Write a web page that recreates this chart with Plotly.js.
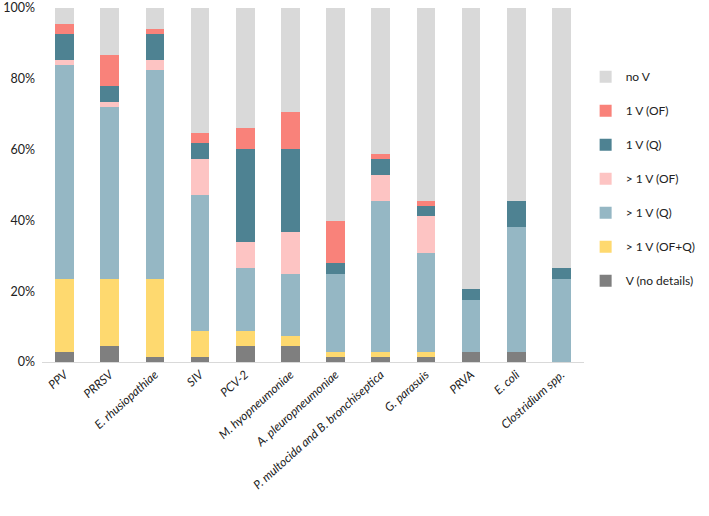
<!DOCTYPE html>
<html>
<head>
<meta charset="utf-8">
<script src="https://cdn.plot.ly/plotly-3.0.1.min.js"></script>
<style>
  html, body { margin: 0; padding: 0; background: #fff; }
  #graph { width: 709px; height: 516px; }
</style>
</head>
<body>
<div id="graph"></div>
<script>
// categories (x axis)
const pathogens = ['PPV', 'PRRSV', 'E. rhusiopathiae', 'SIV', 'PCV-2', 'M. hyopneumoniae',
  'A. pleuropneumoniae', 'P. multocida and B. bronchiseptica', 'G. parasuis', 'PRVA',
  'E. coli', 'Clostridium spp.']

// counts per category (bars normalised to 100%)
const vNoDetails = [2, 3, 1, 1, 3, 3, 1, 1, 1, 2, 2, 0]
const moreOFQ    = [14, 13, 15, 5, 3, 2, 1, 1, 1, 0, 0, 0]
const moreQ      = [41, 33, 40, 26, 12, 12, 15, 29, 19, 10, 24, 16]
const moreOF     = [1, 1, 2, 7, 5, 8, 0, 5, 7, 0, 0, 0]
const oneQ       = [5, 3, 5, 3, 18, 16, 2, 3, 2, 2, 5, 2]
const oneOF      = [2, 6, 1, 2, 4, 7, 8, 1, 1, 0, 0, 0]
const noV        = [3, 9, 4, 24, 23, 20, 41, 28, 37, 54, 37, 50]

const yTicks = [0, 20, 40, 60, 80, 100]

const series = [
  { name: 'V (no details)', y: vNoDetails, color: '#7f7f7f' },
  { name: '> 1 V (OF+Q)',   y: moreOFQ,    color: '#fed96f' },
  { name: '> 1 V (Q)',      y: moreQ,      color: '#95b7c4' },
  { name: '> 1 V (OF)',     y: moreOF,     color: '#fdc4c3' },
  { name: '1 V (Q)',        y: oneQ,       color: '#4e8292' },
  { name: '1 V (OF)',       y: oneOF,      color: '#f9827a' },
  { name: 'no V',           y: noV,        color: '#d9d9d9' }
]

// legend lists the top segment first
const graphData = series.map((s, i) => ({
  type: 'bar',
  name: s.name,
  x: pathogens,
  y: s.y,
  legendgroup: 'g' + i,
  legendrank: 1000 - i,
  marker: { color: s.color, line: { width: 0 } },
  hoverinfo: 'name+y'
}))

const layout = {
  width: 709,
  height: 516,
  margin: { l: 42, r: 107, t: 8, b: 154 },
  paper_bgcolor: '#fff',
  plot_bgcolor: '#fff',
  font: { family: 'Lato, "Open Sans", sans-serif', size: 12, color: '#222' },
  barmode: 'stack',
  barnorm: 'percent',
  bargap: 0.59,
  xaxis: {
    type: 'category',
    tickangle: -42,
    tickfont: { size: 12, style: 'italic', color: '#222' },
    showline: true,
    linecolor: '#d9d9d9',
    linewidth: 1,
    ticks: '',
    showgrid: false,
    zeroline: false
  },
  yaxis: {
    range: [0, 100],
    tickvals: yTicks,
    ticktext: yTicks.map(v => v + '%'),
    tickfont: { size: 12.5, color: '#222' },
    showgrid: false,
    zeroline: false,
    showline: false,
    ticks: '',
    ticklabelstandoff: 6,
    ticklabeloverflow: 'allow'
  },
  legend: {
    x: 1.003,
    xanchor: 'left',
    y: 0.847,
    yanchor: 'top',
    traceorder: 'grouped',
    tracegroupgap: 15,
    font: { size: 12, color: '#222' },
    itemwidth: 30
  },
  showlegend: true
}

Plotly.newPlot('graph', graphData, layout, { displayModeBar: false, staticPlot: true })
</script>
</body>
</html>
